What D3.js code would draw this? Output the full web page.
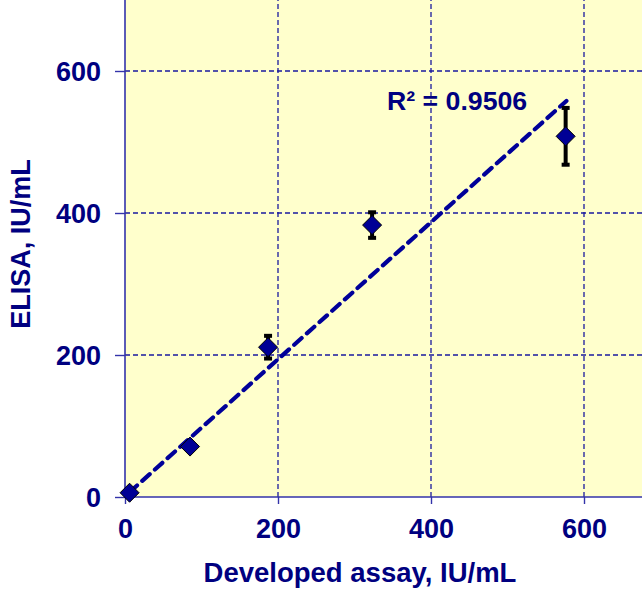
<!DOCTYPE html>
<html>
<head>
<meta charset="utf-8">
<script src="https://cdn.jsdelivr.net/npm/d3@7"></script>
<style>
  body { margin: 0; background: #fff; }
  svg { display: block; }
  text { font-family: "Liberation Sans", Arial, sans-serif; font-weight: bold; fill: #000080; }
</style>
</head>
<body>
<svg id="chart" width="642" height="590"></svg>
<script>
// measurements: developed assay (x) vs ELISA (y), IU/mL
var assay = [6, 85, 187, 323, 576];
var elisa = [6, 71, 211, 383, 508];
var elisaErr = [3, 5, 16, 18, 40];
var trendX = [6, 577];
var trendY = [6.8, 557.8];
var xTicks = [0, 200, 400, 600];
var yTicks = [0, 200, 400, 600];
var r2Label = "R\u00b2 = 0.9506";

var navy = "#000080";
var svg = d3.select("#chart");

var x = d3.scaleLinear().domain([0, 700]).range([125, 660.5]);
var y = d3.scaleLinear().domain([0, 700]).range([497, 0]);

// plot background
svg.append("rect")
    .attr("x", x(0)).attr("y", y(700))
    .attr("width", x(700) - x(0)).attr("height", y(0) - y(700))
    .attr("fill", "#FFFFCC");

// grid
var grid = svg.append("g").attr("stroke", "#1a1a9e").attr("stroke-width", 1.3)
    .attr("stroke-dasharray", "5,3");
grid.selectAll("line.h").data(yTicks.filter(function (d) { return d > 0; })).enter()
    .append("line").attr("class", "h")
    .attr("x1", x(0)).attr("x2", x(700))
    .attr("y1", function (d) { return y(d); }).attr("y2", function (d) { return y(d); });
grid.selectAll("line.v").data(xTicks.filter(function (d) { return d > 0; })).enter()
    .append("line").attr("class", "v")
    .attr("y1", y(0)).attr("y2", y(700))
    .attr("x1", function (d) { return x(d); }).attr("x2", function (d) { return x(d); });

// axes
var yAxis = svg.append("g")
    .attr("transform", "translate(" + x(0) + ",0)")
    .call(d3.axisLeft(y).tickValues(yTicks).tickSize(10).tickPadding(14));
var xAxis = svg.append("g")
    .attr("transform", "translate(0," + y(0) + ")")
    .call(d3.axisBottom(x).tickValues(xTicks).tickSize(7).tickPadding(15));
[xAxis, yAxis].forEach(function (a) {
    a.select(".domain").attr("stroke", "#3333aa").attr("stroke-width", 1.6);
    a.selectAll(".tick line").attr("stroke", "#3333aa").attr("stroke-width", 1.4);
    a.selectAll(".tick text").style("font-size", "27px").attr("fill", navy)
        .style("font-family", "'Liberation Sans', Arial, sans-serif").style("font-weight", "bold");
});
xAxis.select(".domain").attr("d", "M" + x(0) + ",0H" + x(700));
yAxis.select(".domain").attr("d", "M0," + y(0) + "V" + y(700));
yAxis.selectAll(".tick text").attr("dy", "0.36em");

// trend line
svg.append("line")
    .attr("x1", x(trendX[0])).attr("y1", y(trendY[0]))
    .attr("x2", x(trendX[1])).attr("y2", y(trendY[1]))
    .attr("stroke", "#000099").attr("stroke-width", 4.2)
    .attr("stroke-dasharray", "10,7").attr("stroke-linecap", "round");

// error bars
var pts = assay.map(function (d, i) { return { x: d, y: elisa[i], e: elisaErr[i] }; });
var eb = svg.append("g").attr("stroke", "#000").attr("fill", "#000");
eb.selectAll("line").data(pts).enter().append("line")
    .attr("x1", function (d) { return x(d.x); }).attr("x2", function (d) { return x(d.x); })
    .attr("y1", function (d) { return y(d.y - d.e); }).attr("y2", function (d) { return y(d.y + d.e); })
    .attr("stroke-width", 4);
pts.forEach(function (d) {
    [d.y - d.e, d.y + d.e].forEach(function (v) {
        eb.append("rect").attr("x", x(d.x) - 4).attr("y", y(v) - 2)
            .attr("width", 8).attr("height", 4).attr("stroke", "none");
    });
});

// diamonds
svg.selectAll("path.pt").data(pts).enter().append("path")
    .attr("class", "pt")
    .attr("d", function (d) {
        var cx = x(d.x), cy = y(d.y), r = 9.5;
        return "M" + cx + "," + (cy - r) + "L" + (cx + r) + "," + cy + "L" + cx + "," + (cy + r) + "L" + (cx - r) + "," + cy + "Z";
    })
    .attr("fill", "#000095").attr("stroke", "#000").attr("stroke-width", 1);

// R² label
svg.append("text").attr("x", 387).attr("y", 110)
    .style("font-size", "26.7px").text(r2Label);

// axis titles
svg.append("text").attr("x", 360).attr("y", 582).attr("text-anchor", "middle")
    .style("font-size", "27.5px").text("Developed assay, IU/mL");
svg.append("text").attr("transform", "translate(30,244) rotate(-90)").attr("text-anchor", "middle")
    .style("font-size", "27px").text("ELISA, IU/mL");
</script>
</body>
</html>
